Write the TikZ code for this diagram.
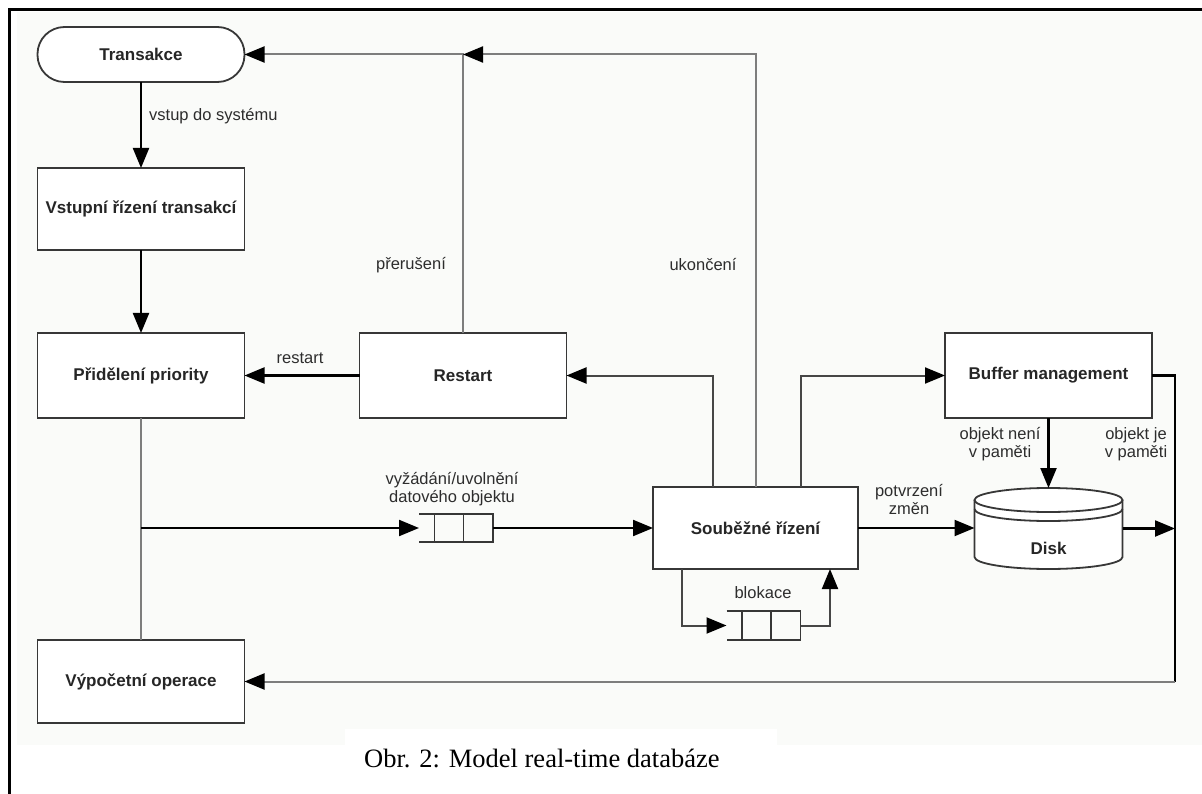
\documentclass[tikz,border=0pt]{standalone}
\usepackage{fontspec}
\setmainfont{Liberation Sans}
\newfontfamily\capfont{Liberation Serif}
\usetikzlibrary{arrows.meta,calc}
\definecolor{tint}{RGB}{250,251,249}
\definecolor{boxc}{RGB}{55,55,55}
\definecolor{lgray}{RGB}{125,125,125}
\definecolor{dgray}{RGB}{70,70,70}
\definecolor{lblc}{RGB}{45,45,45}
\begin{document}
\begin{tikzpicture}[x=1pt,y=-1pt,
  blk/.style={draw=boxc,fill=white,line width=1.8pt,minimum width=207pt,minimum height=83pt,inner sep=0pt,outer sep=0pt,font=\fontsize{17}{19}\selectfont\bfseries,text=black!85},
  lbl/.style={font=\fontsize{16.5}{18}\selectfont,text=lblc,inner sep=0pt,align=center},
  qbox/.style={inner sep=0pt,outer sep=0pt,minimum width=74pt,minimum height=28pt},
  barr/.style={draw=black,line width=2.2pt,-{Triangle[length=20pt,width=16pt,color=black]}},
  darr/.style={draw=dgray,line width=2pt,-{Triangle[length=20pt,width=16pt,color=black]}},
  garr/.style={draw=lgray,line width=2pt,-{Triangle[length=20pt,width=16pt,color=black]}},
  gline/.style={draw=lgray,line width=2pt},
  qline/.style={draw=boxc,line width=1.8pt}
]
\useasboundingbox (0,0) rectangle (1202,794);
\fill[white] (0,0) rectangle (1202,794);
\fill[tint] (17,12) rectangle (1202,745);
\fill[white] (345,729) rectangle (777,794);
\draw[line width=3pt] (9.5,794) -- (9.5,10) -- (1202,10);

% nodes
\node[blk,rounded corners=27pt,minimum height=55pt] (trans) at (141,54.5) {Transakce};
\node[blk,minimum height=82pt] (vstup) at (141,209) {Vstupní řízení transakcí};
\node[blk,minimum height=85pt] (prid) at (141,375.5) {Přidělení priority};
\node[blk,minimum height=85pt] (restart) at (463,375.5) {Restart};
\node[blk,minimum width=205pt,minimum height=82pt] (soub) at (755.5,528) {Souběžné řízení};
\node[blk,minimum height=85pt] (buffer) at (1048.5,375.5) {Buffer management};
\node[blk,minimum height=83pt] (vyp) at (141,681.5) {Výpočetní operace};
\node[inner sep=0pt,outer sep=0pt,minimum width=148pt,minimum height=81pt] (disk) at (1048.5,528.5) {};
\node[qbox] (q1) at (456,528) {};
\node[qbox,minimum height=29pt] (q2) at (763.5,625.5) {};

% disk shape
\fill[white] (974.5,500) -- (974.5,557) .. controls (974.5,563.63) and (1007.63,569) .. (1048.5,569) .. controls (1089.37,569) and (1122.5,563.63) .. (1122.5,557) -- (1122.5,500) .. controls (1122.5,493.37) and (1089.37,488) .. (1048.5,488) .. controls (1007.63,488) and (974.5,493.37) .. (974.5,500) -- cycle;
\draw[qline] (974.5,500) -- (974.5,557) .. controls (974.5,563.63) and (1007.63,569) .. (1048.5,569) .. controls (1089.37,569) and (1122.5,563.63) .. (1122.5,557) -- (1122.5,500);
\draw[qline] (1048.5,500) ellipse [x radius=74pt, y radius=12pt];
\draw[qline] (974.5,509) .. controls (974.5,515.63) and (1007.63,521) .. (1048.5,521) .. controls (1089.37,521) and (1122.5,515.63) .. (1122.5,509);
\node[font=\fontsize{17}{19}\selectfont\bfseries,text=black!85] at (1048.5,548) {Disk};

% queues
\foreach \q in {q1,q2}{
  \draw[qline] (\q.north west) -- (\q.north east) -- (\q.south east) -- (\q.south west);
  \draw[qline] ($(\q.north west)+(15.5,0)$) -- ($(\q.south west)+(15.5,0)$);
  \draw[qline] ($(\q.north west)+(44.5,0)$) -- ($(\q.south west)+(44.5,0)$);
}

% helper coordinates
\coordinate (s1) at ($(soub.north west)+(60,0)$);
\coordinate (s2) at ($(soub.north west)+(103,0)$);
\coordinate (s3) at ($(soub.north west)+(148,0)$);
\coordinate (b1) at ($(soub.south west)+(29,0)$);
\coordinate (b2) at ($(soub.south west)+(177,0)$);
\coordinate (rx) at (1175,0);
\coordinate (br) at (prid.south |- q1.west);

% connectors
\draw[barr] (trans.south) -- (vstup.north);
\draw[barr] (vstup.south) -- (prid.north);
\draw[barr] (restart.west) -- (prid.east);
\draw[garr] (restart.north) |- (trans.east);
\draw[garr] (s2) |- (restart.north |- trans.east);
\draw[darr] (s1) |- (restart.east);
\draw[darr] (s3) |- (buffer.west);
\draw[gline] (prid.south) -- (vyp.north);
\draw[barr] (br) -- (q1.west);
\draw[barr] (q1.east) -- (soub.west);
\draw[barr] (soub.east) -- (soub.east -| disk.west);
\draw[barr] (buffer.south) -- (disk.north);
\draw[barr] (disk.east) -- (disk.east -| rx);
\draw[draw=black,line width=2.6pt] (buffer.east) -- (buffer.east -| rx) -- (vyp.east -| rx);
\draw[garr] (vyp.east -| rx) -- (vyp.east);
\draw[darr] (b1) |- (q2.west);
\draw[darr] (q2.east) -| (b2);

% labels
\node[lbl,anchor=west] at (149,116) {vstup do systému};
\node[lbl] at (300,358) {restart};
\node[lbl] at (411,265) {přerušení};
\node[lbl] at (703,265) {ukončení};
\node[lbl] at (452,489) {vyžádání/uvolnění\\datového objektu};
\node[lbl] at (909,500) {potvrzení\\změn};
\node[lbl] at (1000,444) {objekt není\\v paměti};
\node[lbl] at (1136,444) {objekt je\\v paměti};
\node[lbl] at (763,593) {blokace};

% caption
\node[font=\capfont\fontsize{26.5}{30}\selectfont,anchor=base west,inner sep=0pt] (cap) at (364,767) {Obr. 2: Model real-time databáze};
\end{tikzpicture}
\end{document}
